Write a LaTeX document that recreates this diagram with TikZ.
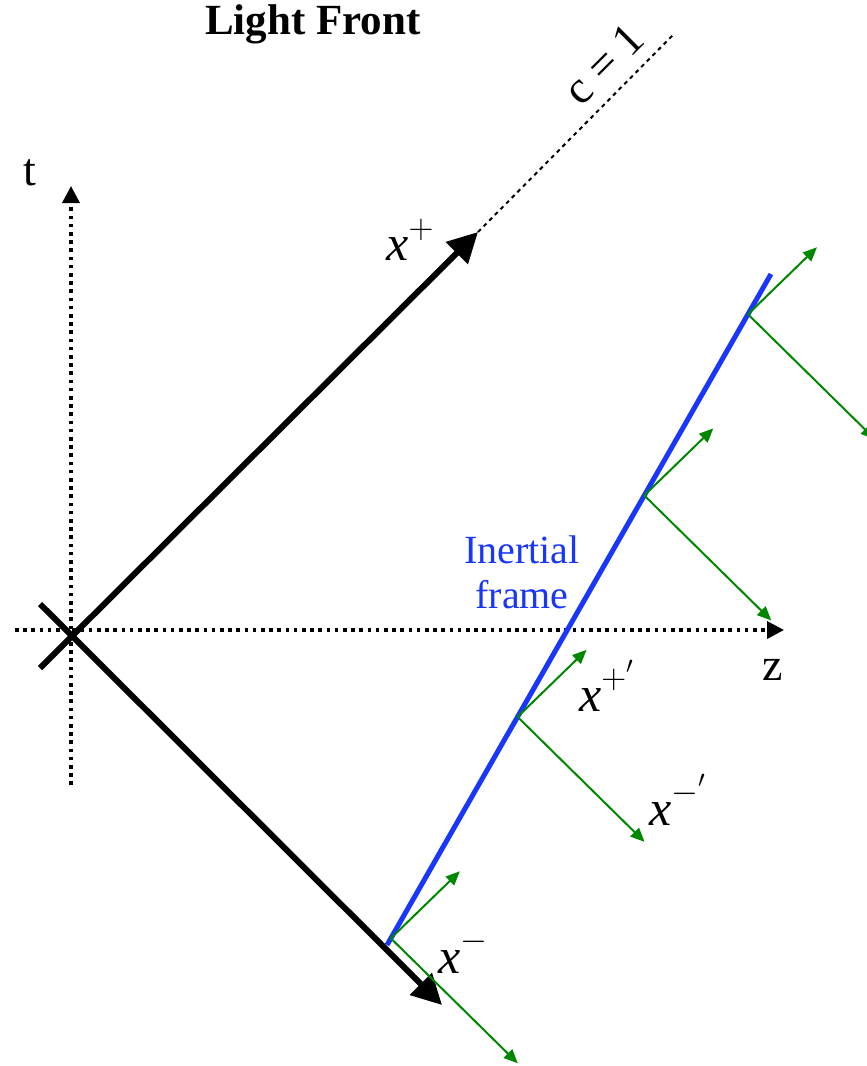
\documentclass[tikz,border=0pt]{standalone}
\usepackage{fontspec}
\setmainfont{Liberation Serif}
\usetikzlibrary{arrows.meta,positioning,calc}
\definecolor{frameblue}{RGB}{25,55,250}
\definecolor{framegreen}{RGB}{0,135,0}
\newcommand{\lfsup}[1]{\raisebox{0.45em}{\fontsize{18}{18}\selectfont$#1$}}
\newcommand{\lfprime}{\raisebox{0.75em}{\fontsize{13}{13}\selectfont$\prime$}}

\begin{document}
\begin{tikzpicture}[
    x=0.5pt, y=-0.5pt,
    axis/.style={line width=1.8pt, dash pattern=on 1.8pt off 2.3pt,
                 -{Triangle[length=8.5pt,width=8.5pt]}},
    cone/.style={line width=3pt, -{Triangle[length=15pt,width=15pt]}},
    lightline/.style={line width=1pt, dash pattern=on 2pt off 2pt},
    worldline/.style={draw=frameblue, line width=2.5pt},
    greenarrow/.style={draw=framegreen, line width=1pt,
                       -{Triangle[length=7pt,width=6pt]}},
    label/.style={font=\fontsize{25}{30}\selectfont, inner sep=0pt},
    axislabel/.style={font=\fontsize{23}{28}\selectfont, inner sep=0pt},
    title/.style={font=\fontsize{21.5}{26}\bfseries, inner sep=0pt}
]
\useasboundingbox (0,0) rectangle (867,1066);

% axes
\coordinate (O) at (71,630);
\coordinate (tlow) at (71,785);
\coordinate (ttop) at (71,186);
\coordinate (zlow) at (15,630);
\coordinate (ztop) at (784,630);
\draw[axis] (tlow) -- (ttop);
\draw[axis] (zlow) -- (ztop);
\node[axislabel] (tlabel) at (30,173) {t};
\node[axislabel] (zlabel) at (773,670) {z};

% light cone
\coordinate (pstart) at (40,668);
\coordinate (pend) at (478,232);
\coordinate (mstart) at (40,604);
\coordinate (mend) at (442,1005);
\coordinate (cend) at (673,35);
\draw[cone] (pstart) -- (pend);
\draw[cone] (mstart) -- (mend);
\draw[lightline] (pend) -- (cend);
\node[font=\fontsize{23}{28}\selectfont, rotate=45, inner sep=0pt] (clabel) at (604,64) {c = 1};
\node[label] (xp) at (410,240) {\textit{x}\lfsup{+}};
\node[label] (xm) at (463,952) {\textit{x}\lfsup{-}};

% inertial frame
\coordinate (b0) at (387,945);
\coordinate (b1) at (771,274);
\draw[worldline] (b0) -- (b1);
\node[font=\fontsize{20}{22.5}\selectfont, text=frameblue, align=center, inner sep=0pt]
  (inertial) at (522,572) {Inertial\\frame};

\foreach \p [count=\i] in {0.01,0.34,0.67,0.94}{
  \coordinate (f\i) at ($(b0)!\p!(b1)$);
  \coordinate (f\i up) at ($(f\i)+(69,-67)$);
  \coordinate (f\i dn) at ($(f\i)+(127,125)$);
  \draw[greenarrow] (f\i) -- (f\i up);
  \draw[greenarrow] (f\i) -- (f\i dn);
}
\node[label] (xpp) at (606,686) {\textit{x}\lfsup{+}\lfprime};
\node[label] (xmp) at (677,800) {\textit{x}\lfsup{-}\lfprime};

\node[title] (head) at (313,24) {Light Front};
\end{tikzpicture}
\end{document}
